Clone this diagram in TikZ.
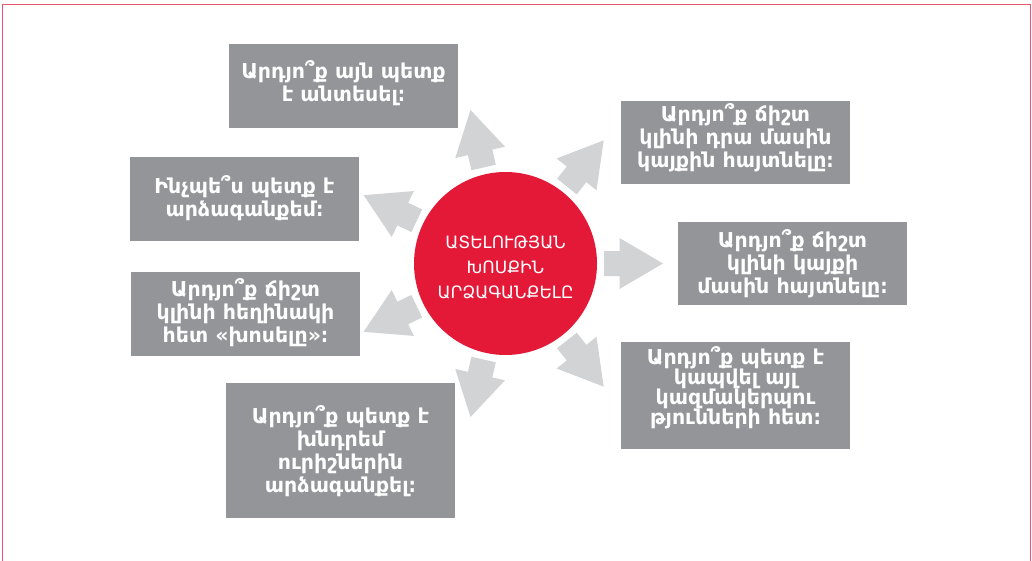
\documentclass[tikz,border=0pt]{standalone}
\usepackage{fontspec}
\setmainfont{DejaVu Sans}
\definecolor{boxgray}{RGB}{147,149,152}
\definecolor{arrgray}{RGB}{209,211,212}
\definecolor{cred}{RGB}{228,25,55}
\definecolor{framered}{RGB}{232,85,110}
\begin{document}
\begin{tikzpicture}[x=1pt,y=-1pt,
  qbox/.style={fill=boxgray, draw=none, inner sep=0pt, minimum width=229pt},
  qtext/.style={text=white, inner sep=0pt, align=center, font=\bfseries\fontsize{20.5}{23}\selectfont},
  ctext/.style={text=white, inner sep=0pt, align=center, font=\fontsize{17}{25}\selectfont},
  arrowfill/.style={fill=arrgray}]
\useasboundingbox (0,0) rectangle (1032,561);
\draw[framered, line width=1.5pt] (2.5,4.5) rectangle (1030.5,562);
% arrows
\foreach \a in {0,...,6} {
  \fill[arrowfill, shift={(505.5,263.5)}, rotate=\a*360/7]
    (98.5,-12.5) -- (114,-12.5) -- (114,-25.5) -- (157.5,0) -- (114,25.5) -- (114,12.5) -- (98.5,12.5) -- cycle;
}
% circle
\node[circle, fill=cred, minimum size=183pt, inner sep=0pt] (c) at (505.5,263.5) {};
\node[ctext] (ct) at (505.5,267) {ԱՏԵԼՈՒԹՅԱՆ\\ԽՈՍՔԻՆ\\ԱՐՁԱԳԱՆՔԵԼԸ};
% boxes
\node[qbox, minimum height=84pt] (b1) at (343.5,86) {};
\node[qtext] (t1) at (343.5,83.5) {Արդյո՞ք այն պետք\\է անտեսել։};
\node[qbox, minimum height=84pt] (b2) at (244.5,199) {};
\node[qtext] (t2) at (244.5,198.5) {Ինչպե՞ս պետք է\\արձագանքեմ։};
\node[qbox, minimum height=84pt] (b3) at (245.5,314) {};
\node[qtext] (t3) at (245.5,313) {Արդյո՞ք ճիշտ\\կլինի հեղինակի\\հետ «խոսելը»։};
\node[qbox, minimum height=135pt] (b4) at (340.5,450.5) {};
\node[qtext] (t4) at (340.5,451.5) {Արդյո՞ք պետք է\\խնդրեմ\\ուրիշներին\\արձագանքել։};
\node[qbox, minimum height=83pt] (b5) at (735.5,142.5) {};
\node[qtext] (t5) at (735.5,138) {Արդյո՞ք ճիշտ\\կլինի դրա մասին\\կայքին հայտնելը։};
\node[qbox, minimum height=83pt] (b6) at (792.5,263.5) {};
\node[qtext] (t6) at (792.5,263.5) {Արդյո՞ք ճիշտ\\կլինի կայքի\\մասին հայտնելը։};
\node[qbox, minimum height=107pt] (b7) at (735.5,395.5) {};
\node[qtext, font=\bfseries\fontsize{20.5}{20}\selectfont] (t7) at (735.5,387.5) {Արդյո՞ք պետք է\\կապվել այլ\\կազմակերպու\\թյունների հետ։};
\end{tikzpicture}
\end{document}
